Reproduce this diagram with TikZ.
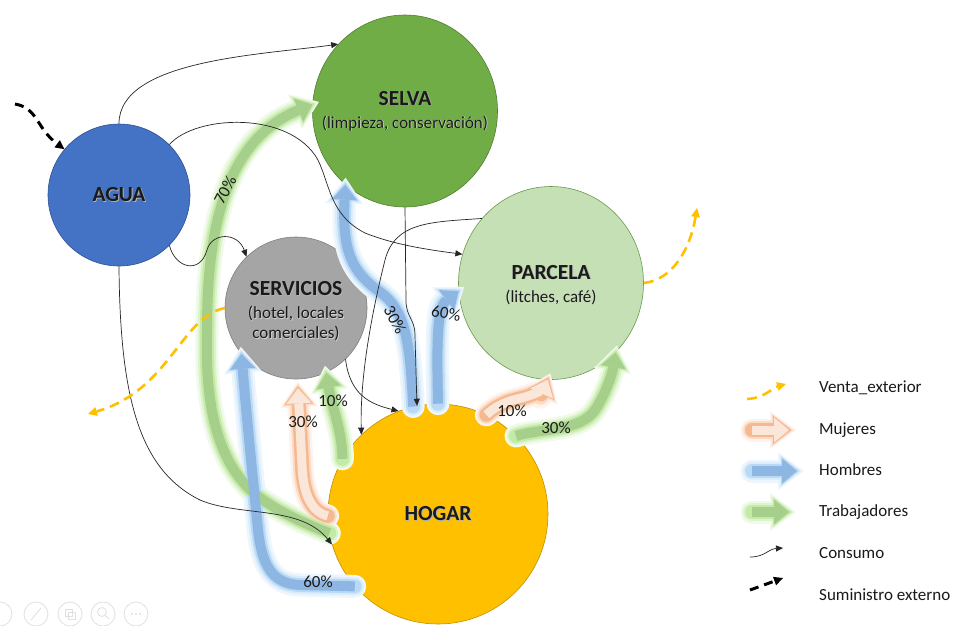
\documentclass[tikz,border=0pt]{standalone}
\usepackage{fontspec}
\setmainfont{Carlito}
\usetikzlibrary{arrows.meta,shapes.geometric,calc}

% node fills and outlines
\definecolor{aguaF}{HTML}{4472C4}
\definecolor{aguaD}{HTML}{2F528F}
\definecolor{selvaF}{HTML}{70AD47}
\definecolor{selvaD}{HTML}{507E32}
\definecolor{servF}{HTML}{A5A5A5}
\definecolor{servD}{HTML}{7F7F7F}
\definecolor{parcF}{HTML}{C5E0B4}
\definecolor{parcD}{HTML}{6A9A4E}
\definecolor{hogarF}{HTML}{FFC000}
\definecolor{hogarD}{HTML}{C09000}
\definecolor{venta}{HTML}{FFC000}
\definecolor{ink}{HTML}{1A1A1A}
% flow colours: three glow rings, then the core
\definecolor{homA}{HTML}{EEF6FD}
\definecolor{homB}{HTML}{DBEDFB}
\definecolor{homG}{HTML}{B9DAF6}
\definecolor{homC}{HTML}{8EB6E2}
\definecolor{traA}{HTML}{F0FAE8}
\definecolor{traB}{HTML}{DDF3CC}
\definecolor{traG}{HTML}{C3EAA6}
\definecolor{traC}{HTML}{A6CF8B}
\definecolor{mujA}{HTML}{FEF3EC}
\definecolor{mujB}{HTML}{FBDCC8}
\definecolor{mujG}{HTML}{F5B88F}
\definecolor{mujC}{HTML}{FBE7DA}

\newcommand\ttl{\fontsize{21.5}{24}\selectfont\bfseries}
\newcommand\subt{\fontsize{17}{20}\selectfont}
\newcommand\shd[1]{\leavevmode\rlap{\kern0.9pt\raisebox{-0.9pt}{\textcolor{black!30}{#1}}}#1}
\newcommand\shdl[1]{\leavevmode\rlap{\kern0.7pt\raisebox{-0.7pt}{\textcolor{black!16}{#1}}}#1}
% centred block of lines that does not widen its node
\newcommand\placetext[1]{\subt\makebox[0pt]{\begin{tabular}{@{}c@{}}#1\end{tabular}}}

\tikzset{
  bubble/.style={circle, inner sep=0pt, line width=0.6pt, align=center, text=ink},
  oval/.style={ellipse, inner sep=0pt, line width=0.6pt, align=center, text=ink},
  consumo/.style={draw=black!85, line width=0.7pt, -{Triangle[length=7pt,width=6pt]}},
  suministro/.style={draw=black, line width=3pt, dash pattern=on 9pt off 6pt, -{Triangle[length=9pt,width=9pt,line width=0pt]}},
  ventaflow/.style={draw=venta, line width=2.6pt, dash pattern=on 10pt off 6pt, -{Triangle[length=9pt,width=9pt,line width=0pt]}},
  pct/.style={font=\fontsize{17}{20}\selectfont, text=ink, inner sep=1pt},
  legend/.style={font=\fontsize{17}{20}\selectfont, anchor=west, text=ink, inner sep=0pt},
  ringA/.style={line width=23pt, line cap=round, line join=round, shorten >=-7pt,
    -{Triangle[length=26pt,width=38pt,line width=0pt]}},
  ringB/.style={line width=18pt, line cap=round, line join=round, shorten >=-4.5pt,
    -{Triangle[length=22pt,width=33pt,line width=0pt]}},
  ringG/.style={line width=14pt, line cap=round, line join=round, shorten >=-2.5pt,
    -{Triangle[length=18.5pt,width=29pt,line width=0pt]}},
  ringC/.style={line width=10pt, line join=round,
    -{Triangle[length=15pt,width=25pt,line width=0pt]}},
  hom A/.style={ringA, draw=homA}, hom B/.style={ringB, draw=homB},
  hom G/.style={ringG, draw=homG}, hom C/.style={ringC, draw=homC},
  tra A/.style={ringA, draw=traA}, tra B/.style={ringB, draw=traB},
  tra G/.style={ringG, draw=traG}, tra C/.style={ringC, draw=traC},
  muj A/.style={ringA, draw=mujA}, muj B/.style={ringB, draw=mujB},
  muj G/.style={ringG, draw=mujG}, muj C/.style={ringC, line width=9pt, draw=mujC},
}

% every labour flow, drawn once per glow layer
\newcommand{\flowset}[1]{%
  % Trabajadores
  \draw[tra #1] (hogar.190) .. controls (300,522) and (272,508) .. (255,494)
     .. controls (215,460) and (205,400) .. (207,330)
     .. controls (207,230) and (225,140) .. (selva.176);
  \draw[tra #1] (hogar.150) .. controls (342,430) and (333,412) .. (serv.295);
  \draw[tra #1] (hogar.45) .. controls (540,428) and (580,432) .. (595,410)
     .. controls (605,395) and (612,375) .. (parc.313);
  \draw[tra #1] (lgTa) -- (lgTb);
  % Hombres
  \draw[hom #1] (hogar.221) -- (300,585) .. controls (272,584) and (262,565) .. (258,530)
     .. controls (252,470) and (246,410) .. (serv.220);
  \draw[hom #1] (hogar.103) .. controls (410,340) and (405,310) .. (380,292)
     .. controls (352,272) and (342,252) .. (selva.231);
  \draw[hom #1] (hogar.90) .. controls (437,350) and (436,308) .. (parc.185);
  \draw[hom #1] (lgHa) -- (lgHb);
  % Mujeres
  \draw[muj #1] (hogar.181) .. controls (312,512) and (303,495) .. (302,465) -- ($(serv.south)+(2,9)$);
  \draw[muj #1] (hogar.64) .. controls (500,402) and (514,400) .. (525,397)
     .. controls (536,394) and (544,388) .. (parc.268);
  \draw[muj #1] (lgMa) -- (lgMb);
}

\begin{document}
\begin{tikzpicture}[x=1pt,y=-1pt]
\useasboundingbox (0,0) rectangle (956,625);
\fill[white] (0,0) rectangle (956,625);

% slideshow toolbar, bottom left
\begin{scope}[draw=black!12, line width=0.8pt]
  \foreach \cx in {0,36,70,103,136} \draw (\cx,614) circle (12);
  \draw (31,620) -- (41,608);
  \draw (65,609) rectangle (72,616);
  \draw (68,612) rectangle (75,619);
  \draw (102,612) circle (4.5);
  \draw (105.5,615.5) -- (109,619);
  \foreach \dx in {-4,0,4} \fill[black!12] (136+\dx,614) circle (1.2);
\end{scope}

% places
\node[bubble, fill=aguaF, draw=aguaD, minimum size=142pt] (agua) at (119,195) {\ttl\shd{AGUA}};
\node[oval, fill=selvaF, draw=selvaD, minimum width=185pt, minimum height=192pt] (selva) at (405,111)
  {\placetext{\rule{0pt}{17pt}\ttl\shd{SELVA}\\[3pt]\shdl{(limpieza, conservación)}}};
\node[bubble, fill=servF, draw=servD, minimum size=142pt] (serv) at (296,308)
  {\placetext{\rule{0pt}{24pt}\ttl\shd{SERVICIOS}\\[3pt]\shdl{(hotel, locales}\\\shdl{comerciales)}}};
\node[oval, fill=parcF, draw=parcD, minimum width=185pt, minimum height=193pt] (parc) at (551,283)
  {\placetext{\rule{0pt}{21pt}\ttl\shd{PARCELA}\\[3pt]\shdl{(litches, café)}}};
\node[bubble, fill=hogarF, draw=hogarD, minimum size=220pt] (hogar) at (438,514) {\ttl\shd{HOGAR}};

% legend sample ends
\coordinate (lgVa) at (747,399); \coordinate (lgVb) at (786,384);
\coordinate (lgMa) at (752,430); \coordinate (lgMb) at (789,430);
\coordinate (lgHa) at (752,471); \coordinate (lgHb) at (797,471);
\coordinate (lgTa) at (752,512); \coordinate (lgTb) at (789,512);
\coordinate (lgCa) at (750,557); \coordinate (lgCb) at (783,548);
\coordinate (lgSa) at (750,590); \coordinate (lgSb) at (783,578);

% labour flows, glow rings first, cores last
\flowset{A}
\flowset{B}
\flowset{G}
\flowset{C}

% consumption of water and goods
\draw[consumo] (agua.90) .. controls (119,60) and (260,55) .. (selva.135);
\draw[consumo] (agua.45) .. controls (195,115) and (290,110) .. (318,160)
   .. controls (330,185) and (330,215) .. (365,233) .. controls (395,245) and (430,250) .. (parc.162);
\draw[consumo] (agua.-45) .. controls (175,268) and (200,275) .. (207,250)
   .. controls (212,232) and (238,232) .. (serv.134);
\draw[consumo] (agua.270) .. controls (120,400) and (140,470) .. (200,500)
   .. controls (240,517) and (300,505) .. (hogar.196);
\draw[consumo] (selva.270) -- (406,300) .. controls (406,318) and (415,318) .. (415,336) -- (hogar.101);
\draw[consumo] (parc.137) .. controls (430,222) and (395,222) .. (385,260)
   .. controls (370,320) and (360,380) .. (hogar.134);
\draw[consumo] (serv.314) .. controls (350,395) and (370,404) .. (hogar.111);

% external supply and outside sales
\coordinate (supply) at (15,104);
\draw[suministro] (supply) .. controls (38,108) and (36,128) .. (agua.140);
\coordinate (saleW) at (88,414);
\draw[ventaflow] (serv.180) .. controls (180,318) and (170,390) .. (saleW);
\coordinate (saleE) at (697,208);
\draw[ventaflow] (parc.0) .. controls (672,280) and (690,250) .. (saleE);

% shares
\node[pct, rotate=62] (p70) at (225,190) {70\%};
\node[pct, rotate=-62] (p30h) at (395,320) {30\%};
\node[pct, rotate=-10] (p60h) at (446,313) {60\%};
\node[pct] (p30m) at (303,422) {30\%};
\node[pct] (p10t) at (333,401) {10\%};
\node[pct] (p10m) at (512,411) {10\%};
\node[pct] (p30t) at (556,428) {30\%};
\node[pct] (p60b) at (318,582) {60\%};

% legend
\draw[ventaflow] (lgVa) .. controls (765,398) and (772,388) .. (lgVb);
\draw[consumo] (lgCa) .. controls (765,557) and (768,549) .. (lgCb);
\draw[suministro] (lgSa) -- (lgSb);
\node[legend] (lgV) at (819,388) {Venta\_exterior};
\node[legend] (lgM) at (819,430) {Mujeres};
\node[legend] (lgH) at (819,470) {Hombres};
\node[legend] (lgT) at (819,512) {Trabajadores};
\node[legend] (lgC) at (819,553) {Consumo};
\node[legend] (lgS) at (819,595) {Suministro externo};
\end{tikzpicture}
\end{document}
